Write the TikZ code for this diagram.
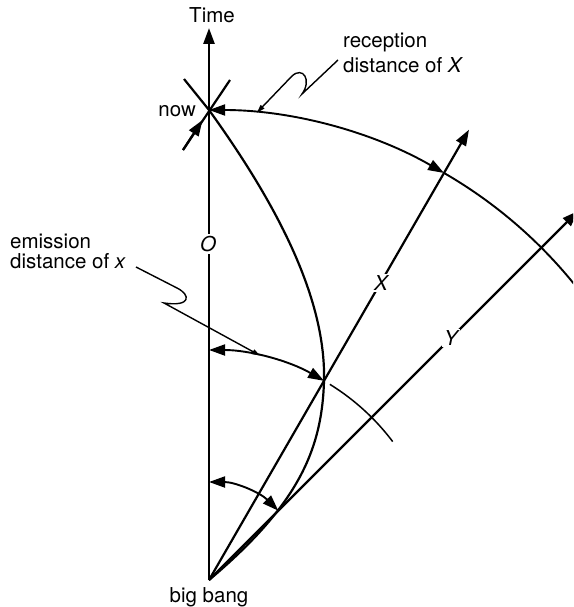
\documentclass[tikz,border=0pt]{standalone}
\usepackage{fontspec}
\setmainfont{TeX Gyre Heros}
\usetikzlibrary{arrows.meta,calc}
\begin{document}
\begin{tikzpicture}[x=1pt,y=1pt,
  lbl/.style={font=\fontsize{20.5}{24}\selectfont, inner sep=0pt},
  onl/.style={font=\fontsize{20.5}{24}\selectfont\itshape, fill=white, inner sep=2pt},
  axisl/.style={line width=2.6pt},
  wl/.style={line width=2.2pt},
  arcl/.style={line width=1.9pt},
  thinarc/.style={line width=1.5pt},
  wig/.style={line width=1.4pt},
  tip/.style={-{Triangle[length=16pt,width=11pt]}},
  tips/.style={{Triangle[length=16pt,width=11pt]}-{Triangle[length=16pt,width=11pt]}},
  smalltip/.style={-{Triangle[length=8pt,width=5pt]}}]
\useasboundingbox (0,0) rectangle (573,-607);
\clip (0,0) rectangle (573,-607);
% key points
\coordinate (BB) at (209,-580);
\coordinate (tt) at (209,-28);
\coordinate (now) at (209,-110);
\coordinate (Xt) at ($(BB)+(60:520pt)$);
\coordinate (Yt) at ($(BB)+(45:522pt)$);
\coordinate (E) at ($(BB)+(60:230pt)$);
\coordinate (Ea) at ($(BB)+(90:230pt)$);
\coordinate (Es) at ($(BB)+(58.3:230pt)$);
\coordinate (La) at ($(BB)+(90:98pt)$);
\coordinate (R) at ($(BB)+(60:470pt)$);
\coordinate (nw) at (184,-79);
\coordinate (nl1) at (183,-150);
\coordinate (nl2) at (230,-80);
\coordinate (ntip) at ($(now)!0.25!(nl1)$);
% axis and world lines
\draw[axisl,tip] (BB) -- (tt);
\draw[wl,tip] (BB) -- (Xt);
\draw[wl,tip] (BB) -- (Yt);
% light lines at now
\draw[wl] (nw) -- (now);
\draw[wl] (nl1) -- (nl2);
\draw[wl,tip] (nl1) -- (ntip);
% past light cone
\draw[wl] (now) .. controls (279,-207) and (326,-300) .. (E)
  .. controls (322,-450) and (298,-505) .. (BB);
% reception distance arc
\draw[arcl,tips] (now) arc[start angle=90,end angle=60,radius=470pt];
\draw[arcl] (R) arc[start angle=60,end angle=36,radius=470pt];
% emission distance arc
\draw[arcl,tips] (Ea) arc[start angle=90,end angle=60,radius=230pt];
\draw[thinarc] (Es) arc[start angle=58.3,end angle=37,radius=230pt];
% lower arc
\draw[arcl,tips] (La) arc[start angle=90,end angle=45,radius=98pt];
% labels on lines
\node[onl] (O) at (208,-244) {O};
\node[onl] (Xl) at (381,-283) {X};
\node[onl] (Yl) at (451,-338) {Y};
% text labels
\node[lbl,anchor=base] (time) at (212,-23) {Time};
\node[lbl,anchor=base east] (nowl) at (196,-117) {now};
\node[lbl,anchor=base] (bb) at (209,-602) {big bang};
\node[lbl,anchor=base west] (em1) at (10,-248) {emission};
\node[lbl,anchor=base west] (em2) at (10,-268) {distance of \textit{x}};
\node[lbl,anchor=base west] (re1) at (343,-48) {reception};
\node[lbl,anchor=base west] (re2) at (343,-73) {distance of \textit{X}};
% wiggly pointers
\coordinate (rw0) at (338,-60);
\coordinate (rw1) at (302,-94);
\coordinate (rw2) at (292,-76);
\coordinate (rwt) at (257,-112.5);
\draw[wig,smalltip] (rw0) -- (rw1) .. controls (312,-80) and (303,-66) .. (rw2) -- (rwt);
\coordinate (ew0) at (136,-267);
\coordinate (ew1) at (177,-288);
\coordinate (ew2) at (164,-303);
\coordinate (ewt) at (260,-355.5);
\draw[wig,smalltip] (ew0) -- (ew1) .. controls (191,-295) and (191,-307) .. (ew2) -- (ewt);
\end{tikzpicture}
\end{document}
